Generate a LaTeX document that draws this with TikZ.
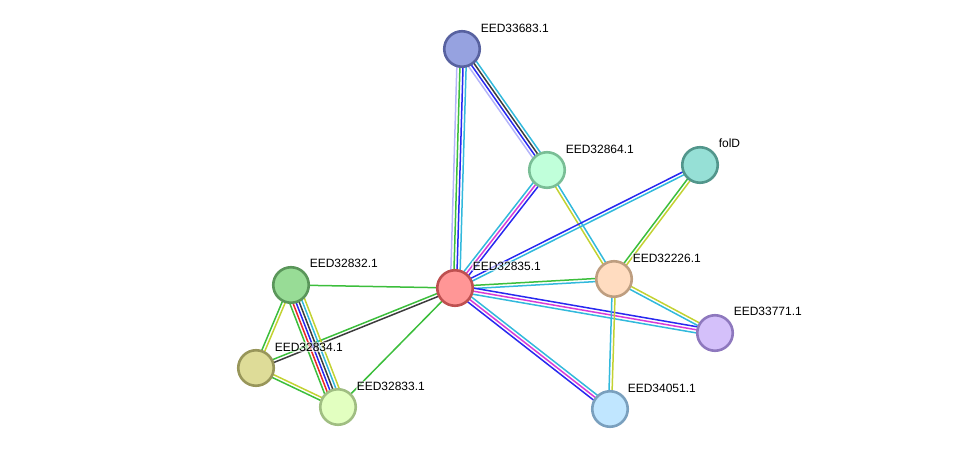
\documentclass[tikz,border=0pt]{standalone}
\usepackage{fontspec}
\newfontfamily\lblfont{Liberation Sans}
\usetikzlibrary{calc,backgrounds}

\definecolor{evneigh}{RGB}{60,190,60}
\definecolor{evfusion}{RGB}{235,40,40}
\definecolor{evcooc}{RGB}{40,40,240}
\definecolor{evcoexp}{RGB}{60,60,60}
\definecolor{evexp}{RGB}{215,60,215}
\definecolor{evdb}{RGB}{50,185,220}
\definecolor{evtext}{RGB}{195,210,50}
\definecolor{evhomol}{RGB}{180,180,250}

% one coloured line per evidence channel, side by side
\newcommand{\evlink}[3]{%
  \foreach \c [count=\i] in {#3} {\xdef\nlines{\i}}
  \foreach \c [count=\i] in {#3} {
    \pgfmathsetmacro{\off}{(\i-(\nlines+1)/2)*3.1}
    \draw[\c, line width=1.5pt] ($(#1)!\off pt!90:(#2)$) -- ($(#2)!\off pt!-90:(#1)$);
  }}

\begin{document}
\begin{tikzpicture}[
    x=1pt, y=-1pt,
    prot/.style={circle, minimum size=35.5pt, inner sep=0pt, line width=2.6pt},
    lbl/.style={anchor=base west, font=\lblfont\fontsize{12}{14}\selectfont,
      fill=white, fill opacity=0.6, text opacity=1, inner sep=0.6pt}
  ]
  \useasboundingbox (0,0) rectangle (975,455);

  % proteins
  \node[prot, fill={rgb,255:red,150;green,162;blue,224}, draw={rgb,255:red,88;green,98;blue,160}] (n33683) at (462,49) {};
  \node[prot, fill={rgb,255:red,192;green,255;blue,218}, draw={rgb,255:red,122;green,190;blue,150}] (n32864) at (547,170) {};
  \node[prot, fill={rgb,255:red,150;green,224;blue,214}, draw={rgb,255:red,82;green,150;blue,140}] (nfolD) at (700,165) {};
  \node[prot, fill={rgb,255:red,255;green,150;blue,150}, draw={rgb,255:red,190;green,80;blue,80}] (n32835) at (455,288) {};
  \node[prot, fill={rgb,255:red,255;green,220;blue,192}, draw={rgb,255:red,190;green,158;blue,128}] (n32226) at (614,279) {};
  \node[prot, fill={rgb,255:red,212;green,192;blue,250}, draw={rgb,255:red,142;green,120;blue,190}] (n33771) at (715,333) {};
  \node[prot, fill={rgb,255:red,192;green,230;blue,255}, draw={rgb,255:red,122;green,160;blue,190}] (n34051) at (610,409) {};
  \node[prot, fill={rgb,255:red,152;green,220;blue,150}, draw={rgb,255:red,90;green,150;blue,90}] (n32832) at (291,285) {};
  \node[prot, fill={rgb,255:red,222;green,220;blue,152}, draw={rgb,255:red,152;green,150;blue,90}] (n32834) at (256,368) {};
  \node[prot, fill={rgb,255:red,226;green,255;blue,192}, draw={rgb,255:red,160;green,190;blue,130}] (n32833) at (338,407) {};

  % labels
  \node[lbl] (l33683) at ($(n33683)+(18,-17)$) {EED33683.1};
  \node[lbl] (l32864) at ($(n32864)+(18,-17)$) {EED32864.1};
  \node[lbl] (lfolD) at ($(nfolD)+(18,-18)$) {folD};
  \node[lbl] (l32835) at ($(n32835)+(17,-18)$) {EED32835.1};
  \node[lbl] (l32226) at ($(n32226)+(18,-17)$) {EED32226.1};
  \node[lbl] (l33771) at ($(n33771)+(18,-18)$) {EED33771.1};
  \node[lbl] (l34051) at ($(n34051)+(17,-17)$) {EED34051.1};
  \node[lbl] (l32832) at ($(n32832)+(18,-18)$) {EED32832.1};
  \node[lbl] (l32834) at ($(n32834)+(18,-17)$) {EED32834.1};
  \node[lbl] (l32833) at ($(n32833)+(18,-17)$) {EED32833.1};

  % evidence links
  \begin{pgfonlayer}{background}
    \evlink{n33683}{n32835}{evhomol,evneigh,evcooc,evdb}
    \evlink{n33683}{n32864}{evhomol,evcooc,evcoexp,evdb}
    \evlink{n32864}{n32835}{evdb,evexp,evcooc}
    \evlink{n32864}{n32226}{evtext,evdb}
    \evlink{nfolD}{n32835}{evcooc,evdb}
    \evlink{nfolD}{n32226}{evneigh,evtext}
    \evlink{n32835}{n32226}{evdb,evneigh}
    \evlink{n32835}{n33771}{evdb,evexp,evcooc}
    \evlink{n32835}{n34051}{evcooc,evexp,evdb}
    \evlink{n32226}{n33771}{evdb,evtext}
    \evlink{n32226}{n34051}{evdb,evtext}
    \evlink{n32832}{n32835}{evneigh}
    \evlink{n32834}{n32835}{evcoexp,evneigh}
    \evlink{n32833}{n32835}{evneigh}
    \evlink{n32832}{n32834}{evneigh,evtext}
    \evlink{n32834}{n32833}{evneigh,evtext}
    \evlink{n32832}{n32833}{evneigh,evfusion,evcooc,evcoexp,evdb,evtext}
  \end{pgfonlayer}
\end{tikzpicture}
\end{document}
